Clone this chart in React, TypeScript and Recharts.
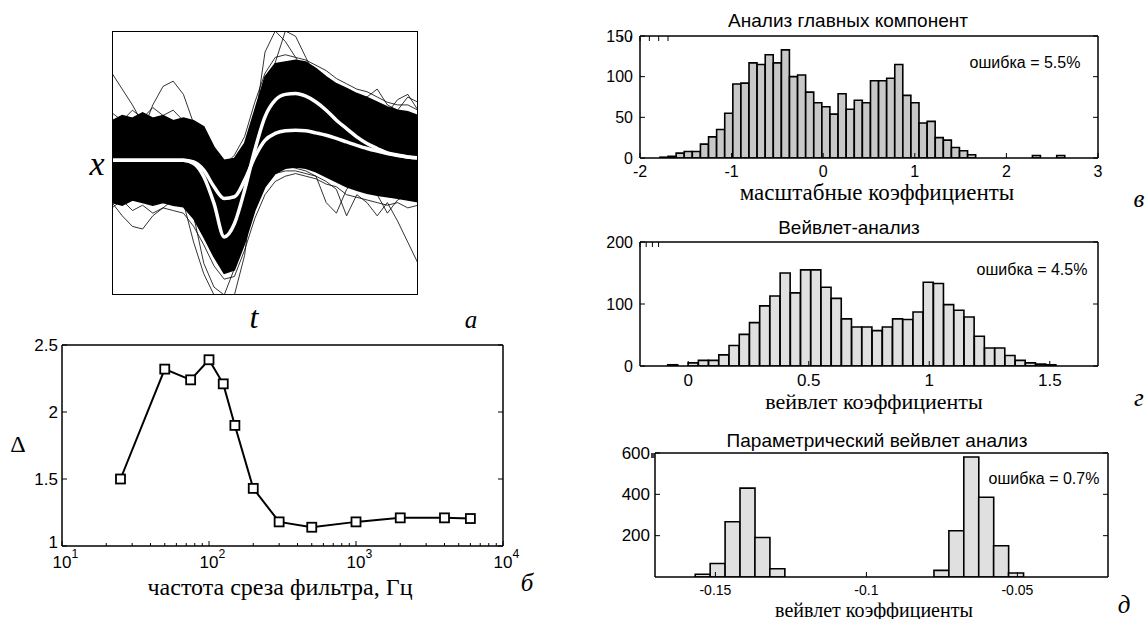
import React from 'react';
import { ComposedChart, Area, Line, LineChart, BarChart, Bar, XAxis, YAxis } from 'recharts';

const SANS = '"Liberation Sans", Arial, sans-serif';
const SERIF = '"Liberation Serif", "Times New Roman", serif';
const AX = { stroke: '#000', strokeWidth: 1.5 };

// ---- panel а: superimposed spike waveforms (0 = bottom of box, 100 = top) ----
const waveT = [0, 1, 2, 3, 4, 5, 6, 7, 8, 9, 10, 11, 12, 13, 14, 15, 16, 17, 18, 19, 20, 21, 22, 23, 24, 25, 26, 27, 28, 29, 30];
const bandLow = [35, 34, 36, 35, 34, 35, 34, 33.4, 29, 22, 14.5, 8.2, 9.5, 19.5, 32, 41, 46, 48, 48.5, 48, 46.7, 44.8, 42.9, 41, 39.7, 38.5, 37.8, 37.2, 36.6, 36, 35.3];
const bandHigh = [66, 68, 67, 69, 67, 68, 66, 67, 66, 63.7, 56, 51, 51.7, 57.4, 70, 82.6, 87.6, 88.3, 88.9, 88.3, 85.8, 82.6, 80, 78.2, 76.3, 74.8, 73, 71.2, 70, 69.4, 68];
const meanLarge = [51, 51, 51, 51, 51, 51, 51, 51, 49.8, 44.8, 34.7, 22, 27, 39.7, 54.9, 67.5, 73.8, 76, 76.3, 75.3, 73.1, 70, 66.2, 63, 59.9, 57.4, 55.5, 53.8, 53, 52.3, 52];
const meanSmall = [51, 51, 51, 51, 51, 51, 51, 51, 50.4, 47.3, 41, 36.6, 37.2, 43.5, 52.3, 58.6, 61.2, 62.2, 62.4, 62.2, 61.4, 60.5, 59.3, 58, 56.7, 55.5, 54.5, 53.6, 52.8, 52.3, 51.9];
const outA = [60, 62, 58, 61, 57, 55, 48, 35, 20, 8, 0, 0, 10, 35, 65, 92, 100, 96, 90, 84, 80, 77, 74, 72, 70, 68, 66, 64, 62, 61, 60];
const outB = [50, 50, 50, 50, 50, 50, 50, 48, 30, 12, 3, 0, 0, 15, 45, 70, 88, 100, 98, 90, 82, 78, 72, 70, 68, 66, 64, 63, 62, 61, 60];
const outC = [84, 78, 72, 65, 60, 55, 55, 54, 52, 50, 45, 40, 42, 50, 60, 70, 78, 82, 84, 82, 79, 77, 76, 76, 75, 75, 78, 72, 70, 75, 73];
const outD = [55, 56, 58, 62, 72, 79, 81, 76, 65, 55, 45, 38, 40, 50, 62, 72, 80, 85, 86, 85, 82, 80, 78, 76, 74, 72, 70, 69, 74, 76, 70];
const outE = [35, 30, 26, 25, 30, 33, 36, 38, 36, 30, 22, 15, 14, 22, 35, 45, 48, 49, 48, 47, 45, 43, 40, 30, 38, 35, 30, 35, 28, 20, 12];
const outF = [40, 38, 37, 36, 37, 38, 37, 36, 33, 28, 20, 12, 12, 20, 33, 42, 46, 47, 47, 46, 45, 35, 31, 40, 44, 40, 38, 31, 36, 38, 36];
const outG = [69, 66, 70, 67, 71, 68, 70, 66, 64, 58, 52, 49, 53, 60, 73, 84, 90, 91, 90, 89, 87, 85, 82, 80, 78, 77, 75, 73, 72, 72, 70];
const outH = [33, 36, 32, 34, 31, 33, 32, 31, 26, 19, 11, 6, 7, 17, 29, 38, 43, 45, 46, 45, 44, 42, 41, 38, 37, 36, 35, 34, 35, 33, 34];
const outliers = [outA, outB, outC, outD, outE, outF, outG, outH];

// ---- panel б: Δ vs filter cut-off frequency ----
const cutoffHz = [25, 50, 75, 100, 125, 150, 200, 300, 500, 1000, 2000, 4000, 6000];
const deltaVals = [1.5, 2.32, 2.24, 2.39, 2.21, 1.9, 1.43, 1.18, 1.14, 1.18, 1.21, 1.21, 1.205];
const freqDecades = [10, 100, 1000, 10000];
const freqTicks = [10, 20, 30, 40, 50, 60, 70, 80, 90, 100, 200, 300, 400, 500, 600, 700, 800, 900, 1000, 2000, 3000, 4000, 5000, 6000, 7000, 8000, 9000, 10000];
const deltaTicks = [1, 1.5, 2, 2.5];

// ---- panel в: PCA histogram ----
const pcaBins = [-1.738, -1.6496, -1.5612, -1.4728, -1.3844, -1.296, -1.2076, -1.1192, -1.0308, -0.9424, -0.854, -0.7656, -0.6772, -0.5888, -0.5004, -0.412, -0.3236, -0.2352, -0.1468, -0.0584, 0.03, 0.1184, 0.2068, 0.2952, 0.3836, 0.472, 0.5604, 0.6488, 0.7372, 0.8256, 0.914, 1.0024, 1.0908, 1.1792, 1.2676, 1.356, 1.4444, 1.5328, 1.6212, 1.7096, 1.798, 1.8864, 1.9748, 2.0632, 2.1516, 2.24, 2.3284, 2.4168, 2.5052, 2.5936];
const pcaCounts = [1, 2, 6, 8, 8, 17, 26, 35, 55, 91, 92, 117, 115, 127, 117, 133, 100, 102, 81, 68, 63, 54, 79, 60, 71, 68, 95, 95, 98, 115, 77, 68, 43, 45, 25, 22, 13, 9, 4, 0, 0, 0, 0, 0, 0, 0, 3, 0, 0, 3];

// ---- panel г: wavelet histogram ----
const wavBins = [-0.0638, -0.0214, 0.021, 0.0634, 0.1058, 0.1482, 0.1906, 0.233, 0.2754, 0.3178, 0.3602, 0.4026, 0.445, 0.4874, 0.5298, 0.5722, 0.6146, 0.657, 0.6994, 0.7418, 0.7842, 0.8266, 0.869, 0.9114, 0.9538, 0.9962, 1.0386, 1.081, 1.1234, 1.1658, 1.2082, 1.2506, 1.293, 1.3354, 1.3778, 1.4202, 1.4626, 1.505];
const wavCounts = [2, 0, 5, 9, 9, 18, 33, 51, 70, 97, 113, 150, 118, 155, 155, 127, 109, 76, 63, 63, 57, 63, 76, 75, 87, 135, 133, 99, 90, 79, 48, 29, 29, 17, 9, 5, 3, 2];

// ---- panel д: parametric wavelet histogram ----
const parBins = [-0.1542, -0.14926, -0.14432, -0.13938, -0.13444, -0.1295, -0.12456, -0.11962, -0.11468, -0.10974, -0.1048, -0.09986, -0.09492, -0.08998, -0.08504, -0.0801, -0.07516, -0.07022, -0.06528, -0.06034, -0.0554, -0.05046];
const parCounts = [13, 65, 267, 430, 191, 40, 0, 0, 0, 0, 0, 0, 0, 0, 0, 0, 32, 224, 581, 386, 151, 19];

type Side = 'bottom' | 'top' | 'left' | 'right';
interface TickSpec {
  side: Side;
  len?: number;
  minorLen?: number;
  majors?: number[];
  label?: boolean;
  gap?: number;
  size?: number;
  pow10?: boolean;
  lift?: { value: number; dy: number };
}

// matlab-like ticks: pointing into the box, label outside
const makeTick = (s: TickSpec) => (props: any) => {
  const { x, y, payload } = props;
  const v: number = payload.value;
  const major = !s.majors || s.majors.includes(v);
  const len = major ? (s.len ?? 5) : (s.minorLen ?? 3);
  const gap = s.gap ?? 12;
  const size = s.size ?? 16;
  const dy = s.lift && s.lift.value === v ? s.lift.dy : 0;
  let x2 = x, y2 = y;
  if (s.side === 'bottom') y2 = y - len;
  if (s.side === 'top') y2 = y + len;
  if (s.side === 'left') x2 = x + len;
  if (s.side === 'right') x2 = x - len;
  let label: React.ReactNode = null;
  if (s.label && major) {
    if (s.side === 'bottom' && s.pow10) {
      const exp = Math.round(Math.log10(v));
      label = (
        <g fontFamily={SANS} fill="#000">
          <text x={x} y={y + gap} textAnchor="middle" dominantBaseline="central" fontSize={size}>10</text>
          <text x={x + size * 0.56} y={y + gap - 8} textAnchor="start" dominantBaseline="central" fontSize={size * 0.72}>{exp}</text>
        </g>
      );
    } else if (s.side === 'bottom') {
      label = <text x={x} y={y + gap} textAnchor="middle" dominantBaseline="central" fontSize={size} fontFamily={SANS} fill="#000">{String(v)}</text>;
    } else if (s.side === 'left') {
      label = <text x={x - gap} y={y + dy} textAnchor="end" dominantBaseline="central" fontSize={size} fontFamily={SANS} fill="#000">{String(v)}</text>;
    }
  }
  return (
    <g>
      <line x1={x} y1={y} x2={x2} y2={y2} stroke="#000" strokeWidth={1} />
      {label}
    </g>
  );
};

const Txt: React.FC<{ x: number; y: number; size: number; serif?: boolean; italic?: boolean; children: React.ReactNode }> = ({ x, y, size, serif, italic, children }) => (
  <div
    style={{
      position: 'absolute', left: x, top: y, transform: 'translate(-50%, -50%)',
      fontSize: size, fontFamily: serif ? SERIF : SANS, fontStyle: italic ? 'italic' : 'normal',
      lineHeight: 0.95, whiteSpace: 'nowrap', color: '#000',
    }}
  >
    {children}
  </div>
);

const waveRows = waveT.map((t, i) => {
  const row: Record<string, any> = { t, band: [bandLow[i], bandHigh[i]], mL: meanLarge[i], mS: meanSmall[i] };
  outliers.forEach((o, k) => { row['o' + k] = o[i]; });
  return row;
});

const WavePanel = () => (
  <div style={{ position: 'absolute', left: 112, top: 31, width: 306, height: 264 }}>
    <ComposedChart width={306} height={264} data={waveRows} margin={{ top: 0, right: 0, bottom: 0, left: 0 }}>
      <XAxis dataKey="t" type="number" domain={[0, 30]} allowDataOverflow hide />
      <YAxis type="number" domain={[0, 100]} allowDataOverflow hide />
      <Area dataKey="band" type="linear" fill="#000" fillOpacity={1} stroke="#000" strokeWidth={1.5} isAnimationActive={false} />
      {outliers.map((_, k) => (
        <Line key={k} dataKey={'o' + k} type="linear" stroke="#000" strokeWidth={0.8} dot={false} isAnimationActive={false} />
      ))}
      <Line dataKey="mL" type="monotone" stroke="#fff" strokeWidth={3.5} dot={false} isAnimationActive={false} />
      <Line dataKey="mS" type="monotone" stroke="#fff" strokeWidth={3.5} dot={false} isAnimationActive={false} />
    </ComposedChart>
    <div style={{ position: 'absolute', inset: 0, border: '1.5px solid #000', boxSizing: 'border-box', pointerEvents: 'none' }} />
  </div>
);

const cutoffRows = cutoffHz.map((f, i) => ({ f, d: deltaVals[i] }));

const SquareDot = (props: any) => {
  const { cx, cy, index } = props;
  return <rect key={index} x={cx - 4.5} y={cy - 4.5} width={9} height={9} fill="#fff" stroke="#000" strokeWidth={1.8} />;
};

const CutoffPanel = () => (
  <div style={{ position: 'absolute', left: 0, top: 330 }}>
    <LineChart width={560} height={289} data={cutoffRows} margin={{ top: 0, right: 0, bottom: 0, left: 0 }}>
      <XAxis dataKey="f" type="number" scale="log" domain={[10, 10000]} allowDataOverflow ticks={freqTicks} interval={0}
        height={73} tickSize={0} tickMargin={0} tickLine={false} axisLine={AX}
        tick={makeTick({ side: 'bottom', majors: freqDecades, label: true, pow10: true, gap: 16, size: 17, len: 5, minorLen: 3 })} />
      <XAxis xAxisId="top" orientation="top" type="number" scale="log" domain={[10, 10000]} allowDataOverflow ticks={freqTicks} interval={0}
        height={15} tickSize={0} tickMargin={0} tickLine={false} axisLine={AX}
        tick={makeTick({ side: 'top', majors: freqDecades, len: 5, minorLen: 3 })} />
      <YAxis type="number" domain={[1, 2.5]} allowDataOverflow ticks={deltaTicks} interval={0}
        width={62} tickSize={0} tickMargin={0} tickLine={false} axisLine={AX}
        tick={makeTick({ side: 'left', label: true, gap: 4, size: 17, len: 5, lift: { value: 1, dy: -4 } })} />
      <YAxis yAxisId="right" orientation="right" type="number" domain={[1, 2.5]} allowDataOverflow ticks={deltaTicks} interval={0}
        width={57} tickSize={0} tickMargin={0} tickLine={false} axisLine={AX}
        tick={makeTick({ side: 'right', len: 5 })} />
      <Line dataKey="d" type="linear" stroke="#000" strokeWidth={2} dot={<SquareDot />} isAnimationActive={false} />
    </LineChart>
  </div>
);

interface HistProps {
  left: number; top: number; width: number; height: number;
  axL: number; axR: number; axT: number; axB: number;
  bins: number[]; counts: number[];
  xDomain: [number, number]; xTicks: number[];
  yDomain: [number, number]; yTicks: number[];
  fill: string; xGap: number; yGap: number; xSize: number; ySize: number;
}

const Hist = (p: HistProps) => {
  const rows = p.bins.map((x, i) => ({ x, n: p.counts[i] }));
  return (
    <div style={{ position: 'absolute', left: p.left, top: p.top }}>
      <BarChart width={p.width} height={p.height} data={rows} barCategoryGap={0} barGap={0}
        margin={{ top: 0, right: 0, bottom: 0, left: 0 }}>
        <XAxis dataKey="x" type="number" domain={p.xDomain} allowDataOverflow ticks={p.xTicks} interval={0}
          height={p.axB} tickSize={0} tickMargin={0} tickLine={false} axisLine={AX}
          tick={makeTick({ side: 'bottom', label: true, gap: p.xGap, size: p.xSize, len: 5 })} />
        <XAxis xAxisId="top" orientation="top" type="number" domain={p.xDomain} allowDataOverflow ticks={p.xTicks} interval={0}
          height={p.axT} tickSize={0} tickMargin={0} tickLine={false} axisLine={AX}
          tick={makeTick({ side: 'top', len: 5 })} />
        <YAxis type="number" domain={p.yDomain} allowDataOverflow ticks={p.yTicks} interval={0}
          width={p.axL} tickSize={0} tickMargin={0} tickLine={false} axisLine={AX}
          tick={makeTick({ side: 'left', label: true, gap: p.yGap, size: p.ySize, len: 5 })} />
        <YAxis yAxisId="right" orientation="right" type="number" domain={p.yDomain} allowDataOverflow ticks={p.yTicks} interval={0}
          width={p.axR} tickSize={0} tickMargin={0} tickLine={false} axisLine={AX}
          tick={makeTick({ side: 'right', len: 5 })} />
        <Bar dataKey="n" fill={p.fill} stroke="#000" strokeWidth={1.6} isAnimationActive={false} />
      </BarChart>
    </div>
  );
};

export default function App() {
  return (
    <div style={{ position: 'absolute', left: 0, top: 0, width: 1148, height: 619, background: '#fff', overflow: 'hidden' }}>
      <WavePanel />
      <Txt x={97} y={164} size={34} serif italic>x</Txt>
      <Txt x={254} y={317} size={32} serif italic>t</Txt>
      <Txt x={471} y={320} size={25} serif italic>а</Txt>

      <CutoffPanel />
      <Txt x={18} y={444} size={24} serif>Δ</Txt>
      <Txt x={280} y={587} size={24} serif>частота среза фильтра, Гц</Txt>
      <Txt x={527} y={583} size={25} serif italic>б</Txt>

      <Hist left={580} top={0} width={568} height={200} axL={60} axR={50} axT={36} axB={42}
        bins={pcaBins} counts={pcaCounts} xDomain={[-2, 3]} xTicks={[-2, -1, 0, 1, 2, 3]}
        yDomain={[0, 150]} yTicks={[0, 50, 100, 150]} fill="#c8c8c8" xGap={13} yGap={7} xSize={16} ySize={16} />
      <Txt x={848} y={21} size={19}>Анализ главных компонент</Txt>
      <Txt x={1025} y={63} size={16}>ошибка = 5.5%</Txt>
      <Txt x={877} y={193} size={23} serif>масштабные коэффициенты</Txt>
      <Txt x={1139} y={199} size={25} serif italic>в</Txt>

      <Hist left={580} top={200} width={568} height={200} axL={60} axR={50} axT={42} axB={34}
        bins={wavBins} counts={wavCounts} xDomain={[-0.2, 1.7]} xTicks={[0, 0.5, 1, 1.5]}
        yDomain={[0, 200]} yTicks={[0, 100, 200]} fill="#e0e0e0" xGap={14} yGap={7} xSize={17} ySize={16} />
      <Txt x={849} y={228} size={19}>Вейвлет-анализ</Txt>
      <Txt x={1032} y={270} size={16}>ошибка = 4.5%</Txt>
      <Txt x={874} y={402} size={22} serif>вейвлет коэффициенты</Txt>
      <Txt x={1139} y={398} size={25} serif italic>г</Txt>

      <Hist left={580} top={400} width={568} height={219} axL={75} axR={40} axT={53} axB={42}
        bins={parBins} counts={parCounts} xDomain={[-0.17, -0.02]} xTicks={[-0.15, -0.1, -0.05]}
        yDomain={[0, 600]} yTicks={[200, 400, 600]} fill="#e0e0e0" xGap={13} yGap={5} xSize={14} ySize={17} />
      <Txt x={877} y={441} size={19}>Параметрический вейвлет анализ</Txt>
      <Txt x={1044} y={479} size={16}>ошибка = 0.7%</Txt>
      <Txt x={874} y={610} size={20} serif>вейвлет коэффициенты</Txt>
      <Txt x={1124} y={605} size={25} serif italic>д</Txt>
    </div>
  );
}
